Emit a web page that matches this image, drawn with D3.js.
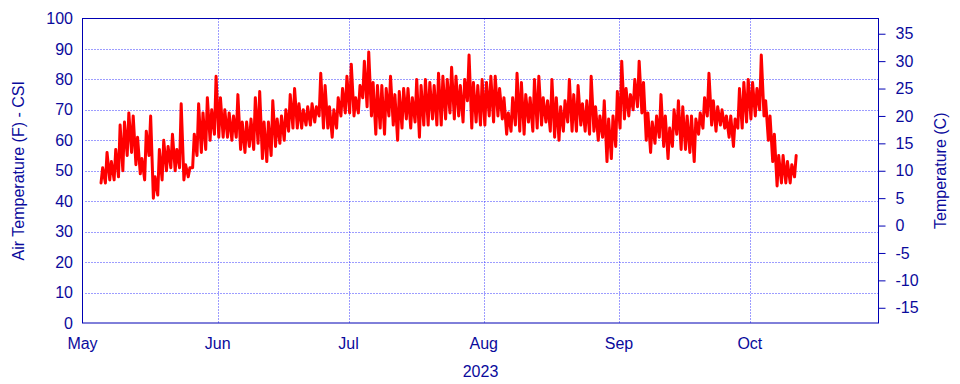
<!DOCTYPE html>
<html>
<head>
<meta charset="utf-8">
<script src="https://cdn.jsdelivr.net/npm/d3@7"></script>
<style>
  html, body { margin: 0; padding: 0; background: #ffffff; }
  svg { display: block; font-family: "Liberation Sans", Arial, sans-serif; }
</style>
</head>
<body>
<svg id="chart" width="960" height="384"></svg>
<script>
// ---- Data ----
const firstDay = "2023-05-05";          // first day with data
// daily minimum / maximum air temperature (F), one entry per day from firstDay
const dailyMin = [46,46,47,47,48,50,55,56,52,49,47,55,41,42,47,50,51,50,51,47,48,51,55,56,57,60,62,61,61,61,60,61,57,56,58,57,59,54,53,55,58,59,60,63,64,64,64,65,65,66,68,64,64,61,64,68,69,69,68,69,74,71,68,62,64,62,68,65,60,64,67,64,66,61,65,65,67,65,65,67,69,67,68,66,73,64,66,65,65,68,66,68,67,62,63,65,63,62,66,63,64,65,66,63,61,60,63,66,63,63,65,63,62,63,60,61,53,54,58,64,67,68,70,71,69,60,56,59,61,58,54,58,62,57,57,56,53,62,64,68,65,63,65,64,61,58,64,64,66,67,68,70,68,60,53,45,46,46,46,48];
const dailyMax = [51,56,53,57,65,66,69,68,61,54,63,68,48,57,60,58,62,57,72,52,51,62,72,69,74,70,81,74,70,69,68,75,66,66,67,74,76,66,66,73,67,68,70,75,77,72,70,71,72,71,82,78,71,70,74,77,81,85,74,78,86,89,79,78,78,77,81,75,76,77,77,74,80,78,80,79,78,82,81,80,84,81,78,80,88,79,78,80,79,81,81,77,74,69,74,82,79,75,74,80,81,74,73,80,74,71,73,80,75,78,72,73,81,71,68,73,67,68,76,86,77,75,80,86,79,69,66,68,75,68,64,70,73,71,68,68,67,69,74,82,73,71,70,68,68,67,77,79,80,79,77,88,73,68,62,55,55,53,52,55];
const leftTicks = [0,10,20,30,40,50,60,70,80,90,100];
const rightTicks = [-15,-10,-5,0,5,10,15,20,25,30,35];
const monthTicks = ["2023-05-01","2023-06-01","2023-07-01","2023-08-01","2023-09-01","2023-10-01"];
const monthLabels = ["May","Jun","Jul","Aug","Sep","Oct"];
const xTitle = "2023";
const yTitleLeft = "Air Temperature (F) - CSI";
const yTitleRight = "Temperature (C)";

// ---- Layout ----
const svg = d3.select("#chart");
const L = 82.5, R = 878.5, T = 18.5, B = 323;
const textColor = "#0a0a9c";
const frameColor = "#0000b4";
const gridColor = "#3a3aff";

const x = d3.scaleUtc()
  .domain([new Date(Date.UTC(2023,4,1)), new Date(Date.UTC(2023,9,30,12))])
  .range([L, R]);
const y = d3.scaleLinear().domain([0,100]).range([B, T]);
const yC = d3.scaleLinear().domain([(0-32)*5/9, (100-32)*5/9]).range([B, T]);

// grid
const grid = svg.append("g");
grid.selectAll("line.h").data(leftTicks.slice(1, -1)).enter().append("line")
  .attr("x1", L + 3).attr("x2", R).attr("y1", d => Math.round(y(d)) + 0.5).attr("y2", d => Math.round(y(d)) + 0.5)
  .attr("stroke", gridColor).attr("stroke-width", 1).attr("stroke-dasharray", "1,2");
grid.selectAll("line.v").data(monthTicks.slice(1)).enter().append("line")
  .attr("x1", d => Math.round(x(new Date(d + "T00:00:00Z"))) + 0.5)
  .attr("x2", d => Math.round(x(new Date(d + "T00:00:00Z"))) + 0.5)
  .attr("y1", T).attr("y2", B)
  .attr("stroke", gridColor).attr("stroke-width", 1).attr("stroke-dasharray", "1,2");

// data line: daily min (early morning) and max (afternoon)
const t0 = new Date(firstDay + "T00:00:00Z").getTime();
const DAY = 86400000;
const pts = [];
dailyMin.forEach((mn, i) => {
  pts.push([new Date(t0 + i*DAY + 0.25*DAY), mn]);
  pts.push([new Date(t0 + i*DAY + 0.625*DAY), dailyMax[i]]);
});
const line = d3.line().x(d => x(d[0])).y(d => y(d[1]));
svg.append("path").datum(pts)
  .attr("d", line)
  .attr("fill", "none")
  .attr("stroke", "#ff0000")
  .attr("stroke-width", 3)
  .attr("stroke-linejoin", "round")
  .attr("stroke-linecap", "round");

// frame
svg.append("rect").attr("x", L).attr("y", T).attr("width", R - L).attr("height", B - T)
  .attr("fill", "none").attr("stroke", frameColor).attr("stroke-width", 1);

// left axis labels
svg.append("g").selectAll("text").data(leftTicks).enter().append("text")
  .attr("x", 73).attr("y", d => y(d)).attr("dy", "0.35em")
  .attr("text-anchor", "end").attr("font-size", 16).attr("fill", textColor)
  .text(d => d);

// right axis
const rAxis = svg.append("g").attr("transform", `translate(${R},0)`)
  .call(d3.axisRight(yC).tickValues(rightTicks).tickSize(7).tickPadding(10).tickFormat(d => String(d)));
rAxis.select(".domain").remove();
rAxis.selectAll(".tick line").attr("stroke", frameColor);
rAxis.selectAll(".tick text").attr("fill", textColor).attr("font-size", 16)
  .attr("font-family", "Liberation Sans, Arial, sans-serif").attr("x", 17);

// x labels
svg.append("g").selectAll("text").data(monthTicks).enter().append("text")
  .attr("x", d => x(new Date(d + "T00:00:00Z"))).attr("y", 349)
  .attr("text-anchor", "middle").attr("font-size", 16).attr("fill", textColor)
  .text((d, i) => monthLabels[i]);

svg.append("text").attr("x", (L + R) / 2).attr("y", 377)
  .attr("text-anchor", "middle").attr("font-size", 16).attr("fill", textColor).text(xTitle);

svg.append("text").attr("transform", `translate(24,${(T + B) / 2}) rotate(-90)`)
  .attr("text-anchor", "middle").attr("font-size", 16).attr("fill", textColor).text(yTitleLeft);

svg.append("text").attr("transform", `translate(946,${(T + B) / 2}) rotate(-90)`)
  .attr("text-anchor", "middle").attr("font-size", 16).attr("fill", textColor).text(yTitleRight);
</script>
</body>
</html>
